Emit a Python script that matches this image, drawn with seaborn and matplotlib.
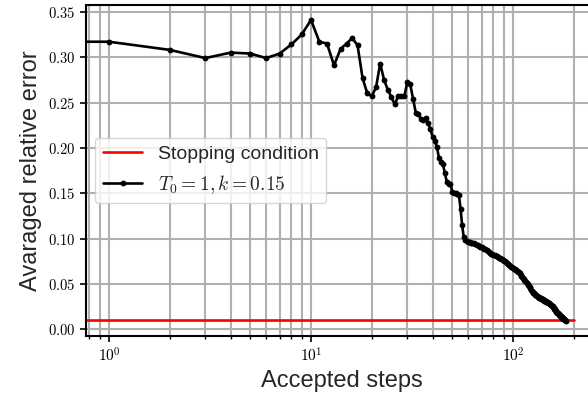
import math

import matplotlib
matplotlib.use("Agg")
import matplotlib.pyplot as plt
from matplotlib.ticker import FuncFormatter, NullFormatter
import seaborn as sns

# Averaged relative error after each accepted step (step 0 = initial state)
avg_rel_error = [
    0.317, 0.317, 0.308, 0.299, 0.305, 0.304, 0.299, 0.304, 0.314, 0.325,
    0.341, 0.317, 0.315, 0.291, 0.309, 0.315, 0.321, 0.313, 0.277, 0.260,
    0.257, 0.267, 0.293, 0.275, 0.264, 0.256, 0.248, 0.257, 0.257, 0.257,
    0.273, 0.270, 0.254, 0.239, 0.237, 0.232, 0.231, 0.233, 0.227, 0.221,
    0.212, 0.208, 0.201, 0.189, 0.185, 0.182, 0.172, 0.163, 0.160, 0.160,
    0.152, 0.150, 0.150, 0.149, 0.148, 0.133, 0.115, 0.102, 0.0990, 0.0975,
    0.0968, 0.0962, 0.0958, 0.0953, 0.0950, 0.0944, 0.0936, 0.0929, 0.0921, 0.0913,
    0.0907, 0.0899, 0.0891, 0.0884, 0.0875, 0.0866, 0.0855, 0.0846, 0.0837, 0.0831,
    0.0826, 0.0819, 0.0812, 0.0806, 0.0799, 0.0792, 0.0787, 0.0780, 0.0772, 0.0766,
    0.0759, 0.0752, 0.0744, 0.0734, 0.0726, 0.0717, 0.0708, 0.0699, 0.0690, 0.0683,
    0.0676, 0.0670, 0.0663, 0.0657, 0.0650, 0.0643, 0.0636, 0.0628, 0.0617, 0.0605,
    0.0594, 0.0580, 0.0567, 0.0555, 0.0543, 0.0532, 0.0521, 0.0510, 0.0501, 0.0490,
    0.0480, 0.0470, 0.0455, 0.0440, 0.0425, 0.0413, 0.0404, 0.0397, 0.0390, 0.0384,
    0.0379, 0.0372, 0.0366, 0.0360, 0.0356, 0.0352, 0.0348, 0.0344, 0.0340, 0.0336,
    0.0331, 0.0327, 0.0322, 0.0318, 0.0313, 0.0310, 0.0306, 0.0303, 0.0299, 0.0295,
    0.0291, 0.0287, 0.0282, 0.0277, 0.0273, 0.0269, 0.0262, 0.0254, 0.0246, 0.0238,
    0.0230, 0.0222, 0.0213, 0.0205, 0.0197, 0.0189, 0.0183, 0.0178, 0.0172, 0.0165,
    0.0159, 0.0153, 0.0147, 0.0141, 0.0136, 0.0130, 0.0125, 0.0120, 0.0115, 0.0110,
    0.0105, 0.0100, 0.0095,
]
steps = list(range(len(avg_rel_error)))

# Stopping threshold drawn across the step range
stop_steps = [0, 200]
stop_level = [0.01, 0.01]

sns.set_style("white")
plt.rcParams.update({
    "font.family": ["Liberation Sans", "DejaVu Sans"],
    "mathtext.fontset": "cm",
    "axes.edgecolor": "black",
    "axes.linewidth": 1.5,
    "xtick.bottom": True,
    "ytick.left": True,
    "xtick.direction": "out",
    "ytick.direction": "out",
    "xtick.major.size": 4,
    "ytick.major.size": 4,
    "xtick.minor.size": 2.5,
    "xtick.major.width": 1.2,
    "ytick.major.width": 1.2,
    "xtick.minor.width": 1.0,
    "xtick.color": "black",
    "ytick.color": "black",
    "xtick.labelsize": 11,
    "ytick.labelsize": 10.5,
})

fig = plt.figure(figsize=(5.88, 3.96), dpi=100)
ax = fig.add_axes([85.75 / 588, 60.1 / 396, 511.3 / 588, 331.0 / 396])

sns.lineplot(x=stop_steps, y=stop_level, ax=ax, color="red", linewidth=1.9,
             label="Stopping condition")
sns.lineplot(x=steps, y=avg_rel_error, ax=ax, color="black", linewidth=1.9,
             marker="o", markersize=4.2, markeredgewidth=0,
             label=r"$T_0=1, k=0.15$")

ax.set_xscale("log")
ax.xaxis.set_major_formatter(
    FuncFormatter(lambda v, pos: rf"$10^{{{int(round(math.log10(v)))}}}$"))
ax.xaxis.set_minor_formatter(NullFormatter())
ax.yaxis.set_major_formatter(FuncFormatter(lambda v, pos: rf"$\mathrm{{{v:.2f}}}$"))

ax.grid(True, which="both", axis="x", color="#b0b0b0", linewidth=1.5)
ax.grid(True, which="major", axis="y", color="#b0b0b0", linewidth=1.5)
ax.set_axisbelow(True)

ax.set_xlabel("Accepted steps", fontsize=17)
ax.set_ylabel("Avaraged relative error", fontsize=17)
ax.legend(loc="center left", fontsize=14)

fig.savefig("out.png", dpi=100)
